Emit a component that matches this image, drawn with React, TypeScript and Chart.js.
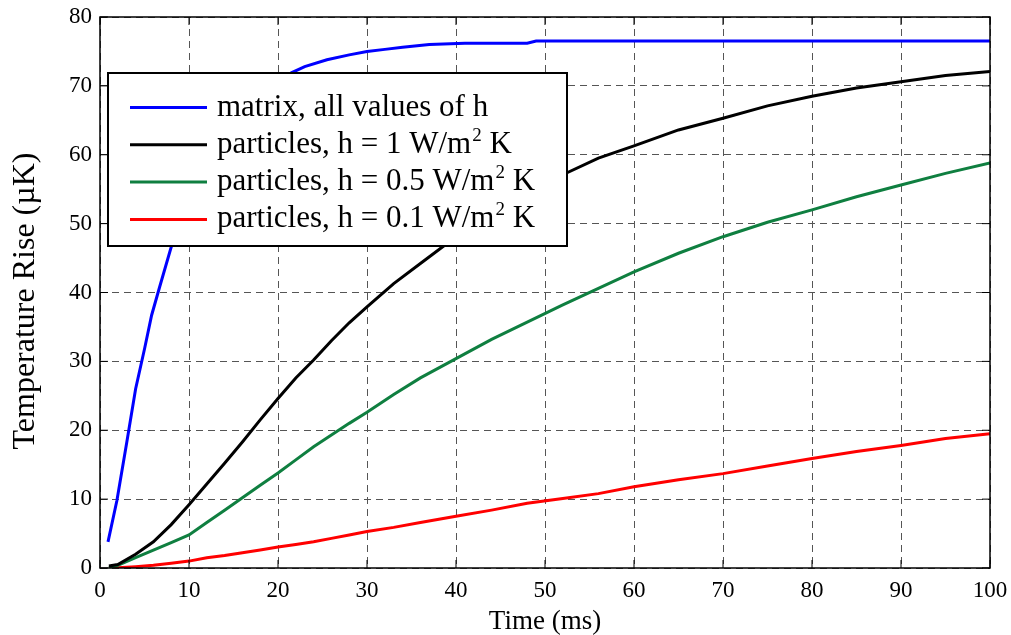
import React, { useEffect, useRef } from "react";
import { Chart, registerables } from "chart.js";

Chart.register(...registerables);

// ---- data ----
const matrixTime = [0.9, 1.9, 3, 4, 5, 5.8, 6.7, 8, 10, 12, 14, 16, 18, 20, 21.5, 23, 25.5, 28, 30, 32, 34, 37, 41, 46, 48, 49, 100];
const matrixRise = [3.8, 9.8, 18.2, 26.0, 31.8, 36.7, 40.8, 46.6, 52, 57, 61, 64.5, 67.5, 70, 71.9, 72.8, 73.8, 74.5, 75.0, 75.3, 75.6, 76.0, 76.2, 76.2, 76.2, 76.5, 76.5];

const particleTime = [1, 2, 4, 6, 8, 10, 12, 14, 16, 18, 20, 22, 24, 26, 28, 30, 33, 36, 40, 44, 48, 52, 56, 60, 65, 70, 75, 80, 85, 90, 95, 100];
const riseH1 = [0.3, 0.5, 2.0, 3.8, 6.3, 9.2, 12.2, 15.2, 18.3, 21.5, 24.6, 27.6, 30.2, 33.0, 35.6, 37.9, 41.3, 44.2, 48.1, 51.2, 54.2, 57.1, 59.5, 61.3, 63.6, 65.3, 67.1, 68.5, 69.7, 70.6, 71.5, 72.1];
const riseH05 = [0.05, 0.4, 1.5, 2.6, 3.7, 4.8, 6.6, 8.4, 10.2, 12.0, 13.8, 15.7, 17.6, 19.3, 21.0, 22.6, 25.2, 27.6, 30.4, 33.2, 35.7, 38.2, 40.6, 43.0, 45.7, 48.1, 50.2, 52.0, 53.9, 55.6, 57.3, 58.8];
const riseH01 = [0.0, 0.05, 0.2, 0.4, 0.7, 1.0, 1.5, 1.8, 2.2, 2.6, 3.05, 3.4, 3.8, 4.3, 4.8, 5.3, 5.9, 6.6, 7.5, 8.4, 9.4, 10.1, 10.8, 11.8, 12.8, 13.7, 14.8, 15.9, 16.9, 17.8, 18.8, 19.5];

const seriesLabels = [
  "matrix, all values of h",
  "particles, h = 1 W/m\u00b2 K",
  "particles, h = 0.5 W/m\u00b2 K",
  "particles, h = 0.1 W/m\u00b2 K",
];
const seriesColors = ["#0000FF", "#000000", "#0F7F40", "#FF0000"];

const xTitle = "Time (ms)";
const yTitle = "Temperature Rise (\u00b5K)";

const FONT = "'Liberation Serif', 'Times New Roman', serif";

const toPoints = (xs: number[], ys: number[]) => xs.map((x, i) => ({ x, y: ys[i] }));

const framePlugin = {
  id: "frameAndLegend",
  afterDatasetsDraw(chart: any) {
    const ctx = chart.ctx as CanvasRenderingContext2D;
    const { left, right, top, bottom } = chart.chartArea;
    const xs = chart.scales.x;
    const ys = chart.scales.y;
    ctx.save();
    // frame
    ctx.strokeStyle = "#000";
    ctx.lineWidth = 1.5;
    ctx.setLineDash([]);
    ctx.strokeRect(left, top, right - left, bottom - top);
    // inner tick marks on all four sides
    ctx.lineWidth = 1;
    ctx.beginPath();
    xs.ticks.forEach((t: any) => {
      const px = xs.getPixelForValue(t.value);
      ctx.moveTo(px, bottom);
      ctx.lineTo(px, bottom - 8);
      ctx.moveTo(px, top);
      ctx.lineTo(px, top + 8);
    });
    ys.ticks.forEach((t: any) => {
      const py = ys.getPixelForValue(t.value);
      ctx.moveTo(left, py);
      ctx.lineTo(left + 8, py);
      ctx.moveTo(right, py);
      ctx.lineTo(right - 8, py);
    });
    ctx.stroke();

    // y-axis title
    ctx.save();
    ctx.translate(26, 301);
    ctx.rotate(-Math.PI / 2);
    ctx.fillStyle = "#000";
    ctx.font = `32px ${FONT}`;
    ctx.textAlign = "center";
    ctx.textBaseline = "middle";
    ctx.fillText(yTitle, 0, 0);
    ctx.restore();

    // legend box
    const bx = left + 8;
    const by = top + 56;
    const bw = 459;
    const bh = 173;
    ctx.fillStyle = "#fff";
    ctx.fillRect(bx, by, bw, bh);
    ctx.lineWidth = 2;
    ctx.strokeStyle = "#000";
    ctx.strokeRect(bx, by, bw, bh);

    const rowY0 = by + 34.5;
    const rowStep = 37.3;
    chart.data.datasets.forEach((ds: any, i: number) => {
      const y = rowY0 + i * rowStep;
      ctx.strokeStyle = ds.borderColor;
      ctx.lineWidth = 3;
      ctx.beginPath();
      ctx.moveTo(bx + 22, y);
      ctx.lineTo(bx + 99, y);
      ctx.stroke();

      ctx.fillStyle = "#000";
      ctx.textBaseline = "alphabetic";
      ctx.textAlign = "left";
      const parts = String(ds.label).split("\u00b2");
      let tx = bx + 109;
      const base = y + 8;
      ctx.font = `31px ${FONT}`;
      ctx.fillText(parts[0], tx, base);
      if (parts.length > 1) {
        tx += ctx.measureText(parts[0]).width + 1;
        ctx.font = `19px ${FONT}`;
        ctx.fillText("2", tx, base - 12);
        tx += ctx.measureText("2").width;
        ctx.font = `31px ${FONT}`;
        ctx.fillText(parts[1], tx, base);
      }
    });
    ctx.restore();
  },
};

export default function App() {
  const canvasRef = useRef<HTMLCanvasElement | null>(null);

  useEffect(() => {
    if (!canvasRef.current) return;
    const mk = (label: string, color: string, xs: number[], ys: number[]) => ({
      label,
      data: toPoints(xs, ys),
      borderColor: color,
      backgroundColor: color,
      borderWidth: 3,
      pointRadius: 0,
      showLine: true,
      tension: 0,
      fill: false,
    });
    const chart = new Chart(canvasRef.current, {
      type: "scatter",
      data: {
        datasets: [
          mk(seriesLabels[0], seriesColors[0], matrixTime, matrixRise),
          mk(seriesLabels[1], seriesColors[1], particleTime, riseH1),
          mk(seriesLabels[2], seriesColors[2], particleTime, riseH05),
          mk(seriesLabels[3], seriesColors[3], particleTime, riseH01),
        ],
      },
      options: {
        animation: false,
        responsive: false,
        maintainAspectRatio: false,
        layout: { padding: { left: 0, right: 21, top: 17, bottom: 0 } },
        plugins: { legend: { display: false }, tooltip: { enabled: false } },
        scales: {
          x: {
            type: "linear",
            min: 0,
            max: 100,
            afterFit: (s: any) => {
              s.height = 67;
              s.paddingLeft = 0;
              s.paddingRight = 0;
            },
            ticks: {
              stepSize: 10,
              color: "#000",
              padding: 9,
              font: { family: FONT, size: 23 },
              maxRotation: 0,
            },
            grid: { color: "#555", lineWidth: 1, drawTicks: false },
            border: { display: false, dash: [7, 5] },
            title: {
              display: true,
              text: xTitle,
              color: "#000",
              font: { family: FONT, size: 27 },
              padding: { top: 0, bottom: -3 },
            },
          },
          y: {
            type: "linear",
            min: 0,
            max: 80,
            afterFit: (s: any) => {
              s.width = 100;
              s.paddingTop = 0;
              s.paddingBottom = 0;
            },
            ticks: {
              stepSize: 10,
              color: "#000",
              padding: 8,
              font: { family: FONT, size: 23 },
            },
            grid: { color: "#555", lineWidth: 1, drawTicks: false },
            border: { display: false, dash: [7, 5] },
            title: { display: false },
          },
        },
      },
      plugins: [framePlugin],
    } as any);
    return () => chart.destroy();
  }, []);

  return (
    <div style={{ position: "absolute", left: 0, top: 0, width: 1011, height: 635, background: "#fff" }}>
      <canvas ref={canvasRef} width={1011} height={635} style={{ display: "block" }} />
    </div>
  );
}
